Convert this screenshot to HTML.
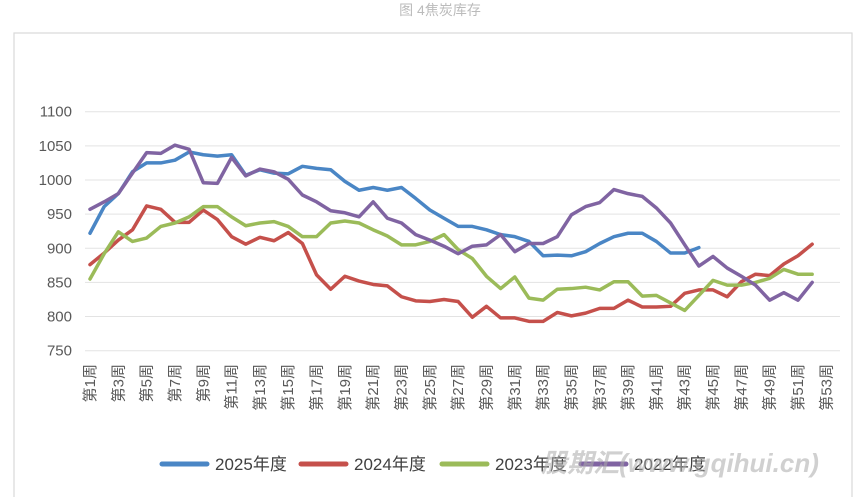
<!DOCTYPE html>
<html><head><meta charset="utf-8"><style>
body{margin:0;background:#fff;}
svg{display:block;font-family:"Liberation Sans","Noto Sans CJK SC",sans-serif;}
</style></head><body>
<svg id="chart" width="861" height="497" viewBox="0 0 861 497" xmlns="http://www.w3.org/2000/svg">
<text x="440" y="15" text-anchor="middle" font-size="14" fill="#bbb">图 4焦炭库存</text>
<rect x="14" y="33" width="838" height="470" fill="none" stroke="#d9d9d9" stroke-width="1.2"/>
<g id="grid"></g><g id="ylab"></g><g id="xlab"></g><g id="lines"></g><g id="legend"></g>
<text x="680" y="472" text-anchor="middle" font-size="26" font-weight="bold" font-style="italic" fill="#aaa" opacity="0.55">股期汇(www.gqihui.cn)</text>
</svg>
<script>
const yTicks=[750,800,850,900,950,1000,1050,1100];
const weeks=Array.from({length:53},(_,i)=>i+1);
const s2025=[922,961,980,1012,1025,1025,1029,1041,1037,1035,1037,1007,1015,1010,1009,1020,1017,1015,998,985,989,985,989,973,956,944,932,932,927,920,917,910,889,890,889,895,907,917,922,922,910,893,893,901];
const s2024=[876,893,912,927,962,957,938,938,956,942,917,906,916,911,923,907,861,840,859,852,847,845,829,823,822,825,822,799,815,798,798,793,793,806,801,805,812,812,824,814,814,815,834,839,839,829,851,862,860,877,889,906];
const s2023=[855,892,924,910,915,932,937,946,961,961,946,933,937,939,932,917,917,937,940,937,927,918,905,905,910,920,898,885,859,841,858,827,824,840,841,843,839,851,851,830,831,820,809,831,853,846,846,850,856,869,862,862];
const s2022=[957,968,980,1010,1040,1039,1051,1045,996,995,1033,1006,1016,1012,1001,978,968,955,952,946,968,944,937,920,912,903,892,903,905,920,895,907,907,917,949,961,967,986,980,976,959,937,905,874,888,871,859,846,824,835,824,850];
const series=[["2025年度",s2025,"#4a86c5"],["2024年度",s2024,"#c5504b"],["2023年度",s2023,"#9bbb59"],["2022年度",s2022,"#8064a2"]];
const NS="http://www.w3.org/2000/svg";
const X=w=>90+(w-1)*14.16;
const Y=v=>350.7-(v-750)*(239/350);
function mk(t,a,p){const e=document.createElementNS(NS,t);for(const k in a)e.setAttribute(k,a[k]);p.appendChild(e);return e;}
const g=document.getElementById('grid'),yl=document.getElementById('ylab'),xl=document.getElementById('xlab'),ln=document.getElementById('lines'),lg=document.getElementById('legend');
yTicks.forEach(v=>{
 const l=mk('line',{x1:85,x2:840,y1:Y(v),y2:Y(v),stroke:'#e3e3e3','stroke-width':1},g);
 
 
 const t=mk('text',{x:72,y:Y(v)+5,'text-anchor':'end','font-size':15,fill:'#595959'},yl);
 t.textContent=v;
 
 
});
weeks.filter(w=>w%2==1).forEach(w=>{
 const t=mk('text',{x:0,y:0,transform:`translate(${X(w)+5},364) rotate(-90)`,'text-anchor':'end','font-size':15,fill:'#595959'},xl);
 t.textContent='第'+w+'周';
 
 
});
series.forEach(([n,d,c])=>{
 const p=mk('polyline',{points:d.map((v,i)=>X(weeks[i])+','+Y(v)).join(' '),fill:'none',stroke:c,'stroke-width':3.5,'stroke-linejoin':'round','stroke-linecap':'round'},ln);
 
 
});
const lx=[162,301,442,581];
series.forEach(([n,d,c],i)=>{
 const gg=mk('g',{},lg);
 
 
 mk('line',{x1:lx[i],x2:lx[i]+45,y1:464,y2:464,stroke:c,'stroke-width':5,'stroke-linecap':'round'},gg);
 const t=mk('text',{x:lx[i]+53,y:470,'font-size':17,fill:'#404040'},gg);
 t.textContent=n;
});
</script>
</body></html>
